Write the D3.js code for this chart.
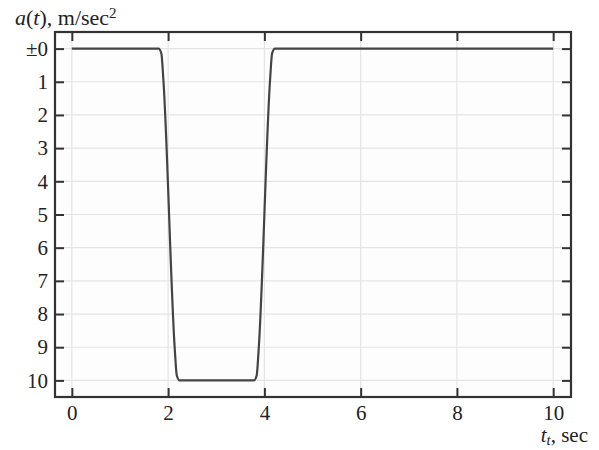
<!DOCTYPE html>
<html>
<head>
<meta charset="utf-8">
<script src="https://cdn.jsdelivr.net/npm/d3@7"></script>
<style>
  body { margin: 0; background: #fff; }
  text { font-family: "Liberation Serif", serif; fill: #222; }
</style>
</head>
<body>
<div id="chart"></div>
<script>
// curve data
const time = [0, 1.80, 1.86, 1.90, 2.14, 2.18, 2.24, 3.78, 3.84, 3.88, 4.12, 4.16, 4.22, 10];
const accel = [0, 0, 0.15, 0.9, 9.1, 9.85, 10, 10, 9.85, 9.1, 0.9, 0.15, 0, 0];
const xTicks = [0, 2, 4, 6, 8, 10];
const yTicks = [0, 1, 2, 3, 4, 5, 6, 7, 8, 9, 10];

const width = 599, height = 450;
const margin = { top: 32, right: 28, bottom: 53, left: 55 };

const svg = d3.select("#chart").append("svg")
  .attr("width", width).attr("height", height);

// frame goes a bit past the data range
const x = d3.scaleLinear().domain([-0.35, 10.37]).range([margin.left, width - margin.right]);
const y = d3.scaleLinear().domain([-0.5, 10.5]).range([margin.top, height - margin.bottom]);

const x0 = margin.left, x1 = width - margin.right;
const y0 = margin.top, y1 = height - margin.bottom;

svg.append("rect")
  .attr("x", x0).attr("y", y0).attr("width", x1 - x0).attr("height", y1 - y0)
  .attr("fill", "#fdfdfd");

//grid
svg.append("g").selectAll("line").data(xTicks).join("line")
  .attr("x1", d => x(d)).attr("x2", d => x(d))
  .attr("y1", y0).attr("y2", y1)
  .attr("stroke", "#e4e4e4").attr("stroke-width", 1.2);
svg.append("g").selectAll("line").data(yTicks).join("line")
  .attr("y1", d => y(d)).attr("y2", d => y(d))
  .attr("x1", x0).attr("x2", x1)
  .attr("stroke", "#e4e4e4").attr("stroke-width", 1.2);

//axes with inward ticks
const tickLen = 9;
const axisStyle = g => {
  g.attr("font-size", 21).attr("font-family", null);
  g.select(".domain").remove();
  g.selectAll(".tick line").attr("stroke", "#333").attr("stroke-width", 2);
  g.selectAll(".tick text").attr("fill", "#222");
};
svg.append("g").attr("transform", `translate(0,${y1})`)
  .call(d3.axisBottom(x).tickValues(xTicks).tickSizeInner(-tickLen).tickPadding(8))
  .call(axisStyle);
svg.append("g").attr("transform", `translate(0,${y0})`)
  .call(d3.axisTop(x).tickValues(xTicks).tickSizeInner(-tickLen).tickFormat(""))
  .call(axisStyle);
svg.append("g").attr("transform", `translate(${x0},0)`)
  .call(d3.axisLeft(y).tickValues(yTicks).tickSizeInner(-tickLen).tickPadding(7)
    .tickFormat(d => d === 0 ? "±0" : d))
  .call(axisStyle);
svg.append("g").attr("transform", `translate(${x1},0)`)
  .call(d3.axisRight(y).tickValues(yTicks).tickSizeInner(-tickLen).tickFormat(""))
  .call(axisStyle);

svg.append("rect")
  .attr("x", x0).attr("y", y0).attr("width", x1 - x0).attr("height", y1 - y0)
  .attr("fill", "none").attr("stroke", "#333").attr("stroke-width", 2.2);

//curve
const line = d3.line()
  .x((d, i) => x(time[i]))
  .y(d => y(d))
  .curve(d3.curveMonotoneX);
svg.append("path")
  .attr("d", line(accel))
  .attr("fill", "none").attr("stroke", "#444").attr("stroke-width", 2.2);

//titles
const yt = svg.append("text").attr("x", 15).attr("y", 25).style("font-size", "22px");
yt.append("tspan").attr("font-style", "italic").text("a");
yt.append("tspan").text("(");
yt.append("tspan").attr("font-style", "italic").text("t");
yt.append("tspan").text("), m/sec");
yt.append("tspan").attr("dy", -7).style("font-size", "15px").text("2");

const xt = svg.append("text").attr("x", 588).attr("y", 442)
  .attr("text-anchor", "end").style("font-size", "21px");
xt.append("tspan").attr("font-style", "italic").text("t");
xt.append("tspan").attr("font-style", "italic").attr("dy", 3).style("font-size", "15px").text("t");
xt.append("tspan").attr("dy", -3).text(", sec");
</script>
</body>
</html>
